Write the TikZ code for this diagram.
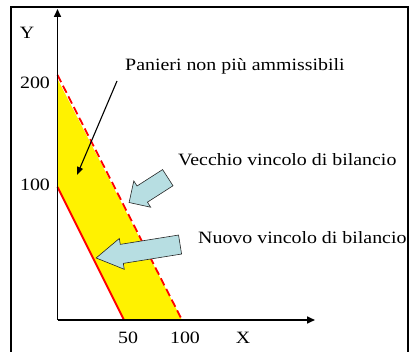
\documentclass[tikz,border=0pt]{standalone}
\usepackage{fontspec}
\setmainfont{Liberation Serif}[FakeStretch=1.15]
\usetikzlibrary{arrows.meta,shapes.arrows}
\definecolor{arrowfill}{RGB}{183,222,226}

\begin{document}
\begin{tikzpicture}[x=1pt, y=-1pt,
	axis/.style={line width=1.6pt, -{Triangle[length=8pt,width=7pt]}},
	lab/.style={font=\fontsize{17.3}{19}\selectfont, inner sep=0pt},
	budget/.style={red, line width=1.8pt},
	fatarrow/.style={single arrow, draw=black!85, line width=0.6pt, fill=arrowfill,
		inner xsep=0pt, inner ysep=6.5pt, single arrow head extend=6pt, shape border uses incircle}]
\clip (0,0) rectangle (409,352);

% cornice
\draw[line width=1.3pt] (11,7) rectangle (408,370);

\coordinate (O)    at (57.5,320);
\coordinate (Ytip) at (57.5,9);
\coordinate (Xtip) at (315,320);
\coordinate (oldY) at (57.5,75);
\coordinate (oldX) at (181,318);
\coordinate (newY) at (57.5,187);
\coordinate (newX) at (124,320);

% area tra i due vincoli
\fill[yellow] (57.5,79) -- (182,320) -- (newX) -- (newY) -- cycle;

\draw[budget, dash pattern=on 8pt off 4pt] (oldY) -- (oldX);
\draw[budget] (newY) -- (newX);

\draw[axis] (O) -- (Ytip);
\draw[axis] (O) -- (Xtip);

\node[lab] (ylab)  at (27,33)  {Y};
\node[lab] (y200)  at (35,83)  {200};
\node[lab] (y100)  at (35,185) {100};
\node[lab] (x50)   at (128,338) {50};
\node[lab] (x100)  at (185,338) {100};
\node[lab] (xlab)  at (243,338) {X};

\node[lab, anchor=west] (pan) at (125,66)  {Panieri non più ammissibili};
\node[lab, anchor=west] (old) at (178,160) {Vecchio vincolo di bilancio};
\node[lab, anchor=west] (new) at (198,238) {Nuovo vincolo di bilancio};

\coordinate (panA) at (117,81);
\coordinate (panB) at (77,175);
\draw[line width=1.1pt, -{Triangle[length=8pt,width=6pt]}] (panA) -- (panB);

\node[fatarrow, minimum height=46pt, rotate=212.7] (oldarr) at (152.5,187.5) {};
\node[fatarrow, minimum height=85pt, single arrow tip angle=62, rotate=189.1] (newarr) at (146,250) {};
\end{tikzpicture}
\end{document}
